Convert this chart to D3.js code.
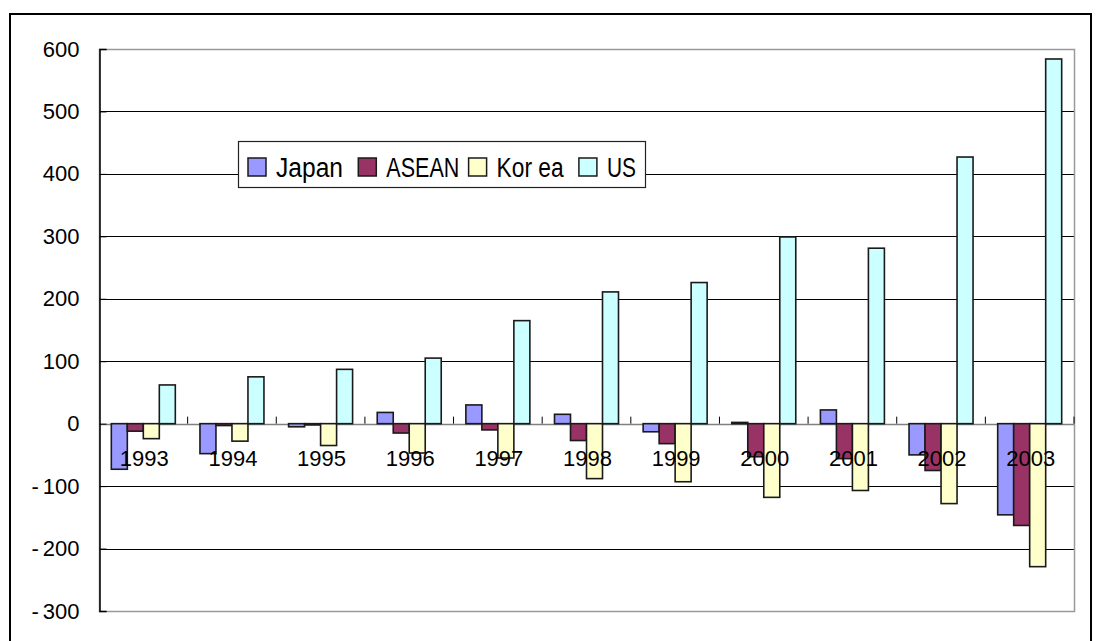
<!DOCTYPE html>
<html>
<head>
<meta charset="utf-8">
<script src="https://cdn.jsdelivr.net/npm/d3@7"></script>
<style>
  body { margin: 0; background: #fff; }
  svg { display: block; font-family: Arial, "Liberation Sans", sans-serif; }
</style>
</head>
<body>
<div id="canvas"></div>
<script>
const w = 1096, h = 641;

const years = ["1993","1994","1995","1996","1997","1998","1999","2000","2001","2002","2003"];
const seriesNames = ["Japan","ASEAN","Korea","US"];
const legendLabels = ["Japan","ASEAN","Kor ea","US"];
const colors = ["#9999ff","#993366","#ffffcc","#ccffff"];
const japan = [-73,-48,-5,18,30,15,-13,2,22,-50,-146];
const asean = [-12,-3,-2,-15,-10,-27,-32,-53,-56,-75,-163];
const korea = [-24,-28,-35,-47,-55,-88,-93,-118,-107,-128,-229];
const us = [62,75,87,105,165,211,226,299,281,427,584];
const yTicks = [-300,-200,-100,0,100,200,300,400,500,600];

const values = [japan, asean, korea, us];
const rows = years.map((yr, i) => ({
  year: yr,
  vals: seriesNames.map((s, j) => ({ key: s, color: colors[j], v: values[j][i] }))
}));

let svg = d3.select("#canvas")
            .append("svg")
                .attr("width", w)
                .attr("height", h)
                .attr("viewBox", [0, 0, w, h]);

const pLeft = 99, pRight = 1074, pTop = 49, pBottom = 611;

let x = d3.scaleBand().domain(years).range([pLeft, pRight]);
let y = d3.scaleLinear().domain([-300, 600]).range([pBottom, pTop]);
const pad = x.bandwidth() * 0.139;
let x1 = d3.scaleBand().domain(seriesNames).range([pad, x.bandwidth() - pad]);

// outer frame
svg.append("rect")
    .attr("x", 10).attr("y", 14)
    .attr("width", 1081).attr("height", 640)
    .attr("fill", "none")
    .attr("stroke", "#000")
    .attr("stroke-width", 2);

// gridlines
svg.append("g")
  .selectAll("line")
  .data(yTicks.filter(t => t != 0 && t != 600 && t != -300))
  .enter().append("line")
    .attr("x1", pLeft).attr("x2", pRight)
    .attr("y1", d => Math.round(y(d)) + 0.5)
    .attr("y2", d => Math.round(y(d)) + 0.5)
    .attr("stroke", "#000")
    .attr("stroke-width", 1);

// plot border (grey)
svg.append("rect")
    .attr("x", pLeft + 0.5).attr("y", Math.round(y(600)) + 0.5)
    .attr("width", pRight - pLeft)
    .attr("height", Math.round(y(-300)) - Math.round(y(600)))
    .attr("fill", "none")
    .attr("stroke", "#999")
    .attr("stroke-width", 1.5);

// zero line
svg.append("line")
    .attr("x1", pLeft).attr("x2", pRight)
    .attr("y1", Math.round(y(0)) + 0.5).attr("y2", Math.round(y(0)) + 0.5)
    .attr("stroke", "#808080")
    .attr("stroke-width", 1.5);

// bars
let g = svg.append("g");
g.selectAll("g")
    .data(rows)
  .enter().append("g")
    .attr("transform", d => "translate(" + x(d.year) + ",0)")
  .selectAll("rect")
    .data(d => d.vals)
  .enter().append("rect")
    .attr("x", d => x1(d.key))
    .attr("width", x1.bandwidth())
    .attr("y", d => y(Math.max(0, d.v)))
    .attr("height", d => Math.abs(y(d.v) - y(0)))
    .attr("fill", d => d.color)
    .attr("stroke", "#1a1a1a")
    .attr("stroke-width", 1.6);

// left axis
let yAxis = d3.axisLeft(y)
    .tickValues(yTicks)
    .tickSize(-7)
    .tickPadding(20)
    .tickFormat(d3.format("d"));
let gY = svg.append("g")
    .attr("transform", "translate(" + (pLeft + 0.5) + ",0)")
    .call(yAxis);
gY.select(".domain").attr("stroke", "#000").attr("stroke-width", 1.5);
gY.selectAll(".tick line").attr("stroke", "#000");
gY.selectAll(".tick text")
    .attr("font-size", 22)
    .attr("font-family", "Arial, 'Liberation Sans', sans-serif")
    .attr("fill", "#000")
    .text(null)
    .each(function(d) {
      let t = d3.select(this);
      if (d < 0) {
        t.append("tspan").text("-");
        t.append("tspan").attr("dx", 4).text(Math.abs(d));
      } else {
        t.text(d);
      }
    });

// category ticks on zero line
svg.append("g")
  .selectAll("line")
  .data(years.slice(1).concat(["end"]))
  .enter().append("line")
    .attr("x1", d => d == "end" ? pRight : x(d))
    .attr("x2", d => d == "end" ? pRight : x(d))
    .attr("y1", y(0) - 7).attr("y2", y(0))
    .attr("stroke", "#000")
    .attr("stroke-width", 1);

// category labels
svg.append("g")
  .selectAll("text")
  .data(years)
  .enter().append("text")
    .attr("x", d => x(d) + x.bandwidth() / 2 + 1)
    .attr("y", 466)
    .attr("text-anchor", "middle")
    .attr("font-size", 22)
    .attr("fill", "#000")
    .text(d => d);

// legend
let lg = svg.append("g");
lg.append("rect")
    .attr("x", 238.5).attr("y", 141.5)
    .attr("width", 407).attr("height", 46)
    .attr("fill", "#fff")
    .attr("stroke", "#222")
    .attr("stroke-width", 1.2);
const textW = [67, 73, 67, 29];
legendLabels.forEach((lab, i) => {
  let lx = 248 + i * 110.3;
  lg.append("rect")
    .attr("x", lx).attr("y", 158)
    .attr("width", 18).attr("height", 18)
    .attr("fill", colors[i])
    .attr("stroke", "#1a1a1a")
    .attr("stroke-width", 1.5);
  lg.append("text")
    .attr("x", lx + 28).attr("y", 177)
    .attr("font-size", 27)
    .attr("textLength", textW[i])
    .attr("lengthAdjust", "spacingAndGlyphs")
    .attr("fill", "#000")
    .text(lab);
});
</script>
</body>
</html>
